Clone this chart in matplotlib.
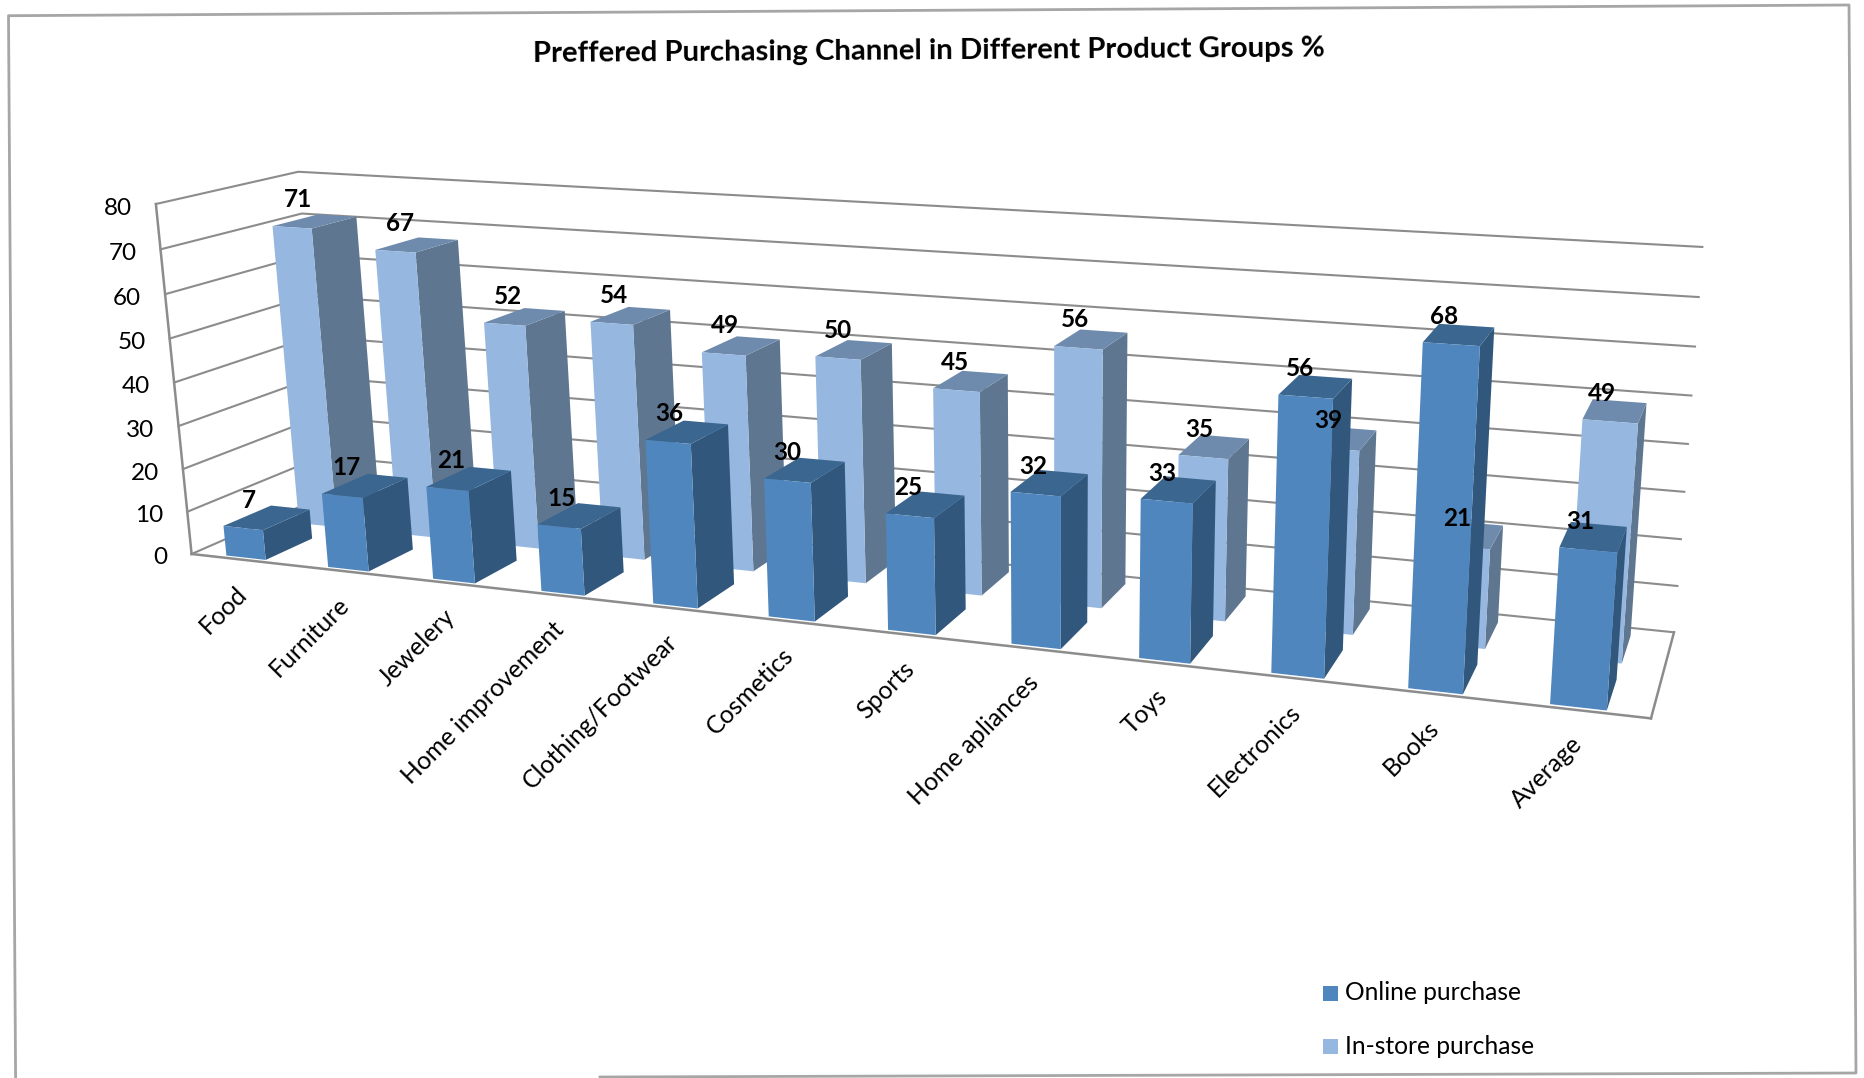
import matplotlib
matplotlib.use("Agg")
import matplotlib.pyplot as plt
from matplotlib.patches import Polygon, Rectangle
import numpy as np

plt.rcParams['font.family'] = ['Lato', 'DejaVu Sans']

# Chart data
categories = ['Food', 'Furniture', 'Jewelery', 'Home improvement', 'Clothing/Footwear', 'Cosmetics',
              'Sports', 'Home apliances', 'Toys', 'Electronics', 'Books', 'Average']
online = [7, 17, 21, 15, 36, 30, 25, 32, 33, 56, 68, 31]
instore = [71, 67, 52, 54, 49, 50, 45, 56, 35, 39, 21, 49]
ticks = [0, 10, 20, 30, 40, 50, 60, 70, 80]

# Camera calibration: (category pos, depth, value) -> pixel in the picture
world_pts = [(0, 0, 80), (0, 1, 80), (0, 0, 0), (12, 0, 0), (12, 1, 0), (12, 1, 80), (0, 1, 0),
             (0, 0, 70), (12, 1, 40), (0.5, 0.03, 0), (1.5, 0.03, 0), (2.5, 0.03, 0),
             (9.5, 0.03, 0), (10.5, 0.03, 0), (11.5, 0.03, 0)]
pixel_pts = [(157.4, 206), (294.6, 170), (186.6, 556), (1651, 721.7), (1673, 632.7), (1702.7, 245.7), (330, 497),
             (163, 250), (1687.7, 445), (245, 555), (349, 568), (455, 580),
             (1298, 675), (1435, 690), (1579, 706)]


def fit_camera(world, pixels):
    rows = []
    for (x, y, z), (u, v) in zip(world, pixels):
        rows.append([x, y, z, 1, 0, 0, 0, 0, -u * x, -u * y, -u * z, -u])
        rows.append([0, 0, 0, 0, x, y, z, 1, -v * x, -v * y, -v * z, -v])
    return np.linalg.svd(np.array(rows))[2][-1].reshape(3, 4)


cam = fit_camera(world_pts, pixel_pts)


def project(x, y, z):
    p = cam @ np.array([x, y, z, 1.0])
    return p[0] / p[2], p[1] / p[2]


def draw_bar(ax, i, value, y0, y1, front, side, top):
    x0, x1 = i + 0.5 - 0.195, i + 0.5 + 0.195
    ax.add_patch(Polygon([project(x1, y0, 0), project(x1, y1, 0), project(x1, y1, value), project(x1, y0, value)],
                         facecolor=side, edgecolor='none'))
    ax.add_patch(Polygon([project(x0, y0, value), project(x1, y0, value), project(x1, y1, value), project(x0, y1, value)],
                         facecolor=top, edgecolor='none'))
    ax.add_patch(Polygon([project(x0, y0, 0), project(x1, y0, 0), project(x1, y0, value), project(x0, y0, value)],
                         facecolor=front, edgecolor='none'))


def bar_label(ax, i, value, y0):
    u, v = project(i + 0.5, y0, value)
    ax.text(u + 6 - 14 * i / 11, v - 28, str(value), fontsize=17.5, fontweight='bold',
            ha='center', va='center', color='black', zorder=10)


fig = plt.figure(figsize=(18.64, 10.78), dpi=100)
ax = fig.add_axes([0, 0, 1, 1])
ax.set_xlim(0, 1864)
ax.set_ylim(1078, 0)
ax.axis('off')

# Outer frame (slightly skewed in the picture)
frame_color = '#a6a6a6'
ax.plot([600, 1856, 1849, 8.5, 15.6], [1077, 1073, 5, 15.7, 1078], color=frame_color, lw=2)

# Title
ax.text(929, 51, 'Preffered Purchasing Channel in Different Product Groups %', fontsize=21.2, fontweight='bold',
        ha='center', va='center', rotation=0.4, color='black')

# Walls and gridlines
grid_color = '#8c8c8c'
for t in ticks:
    pts = [project(0, 0, t), project(0, 1, t), project(12, 1, t)]
    ax.plot([p[0] for p in pts], [p[1] for p in pts], color=grid_color, lw=1.5, zorder=1)
    u, v = project(0, 0, t)
    ax.text(u - 24, v + 4, str(t), fontsize=17.5, ha='right', va='center', color='black')
for a, b in [((0, 0, 0), (0, 0, 80)), ((0, 0, 0), (12, 0, 0)), ((12, 0, 0), (12, 1, 0))]:
    p, q = project(*a), project(*b)
    ax.plot([p[0], q[0]], [p[1], q[1]], color=grid_color, lw=1.8, zorder=1)

# Back series first, then the front series on top of it
for i, v in enumerate(instore):
    draw_bar(ax, i, v, 0.56, 0.90, '#95B7E0', '#5F7690', '#6E8BAE')
for i, v in enumerate(online):
    draw_bar(ax, i, v, 0.03, 0.37, '#4F86BD', '#31587C', '#3B6690')

for i, v in enumerate(instore):
    bar_label(ax, i, v, 0.56)
for i, v in enumerate(online):
    bar_label(ax, i, v, 0.03)

# Category labels
for i, name in enumerate(categories):
    u, v = project(i + 0.5, 0, 0)
    ax.text(u - 7, v + 22, name, fontsize=17.8, rotation=45, rotation_mode='anchor',
            ha='right', va='top', color='black')

# Legend
ax.add_patch(Rectangle((1323, 986), 15, 15, facecolor='#4F86BD', edgecolor='none'))
ax.add_patch(Rectangle((1323, 1039), 15, 15, facecolor='#95B7E0', edgecolor='none'))
ax.text(1345, 993, 'Online purchase', fontsize=17.7, ha='left', va='center', color='black')
ax.text(1345, 1046, 'In-store purchase', fontsize=17.7, ha='left', va='center', color='black')

fig.savefig('out.png', dpi=100)
